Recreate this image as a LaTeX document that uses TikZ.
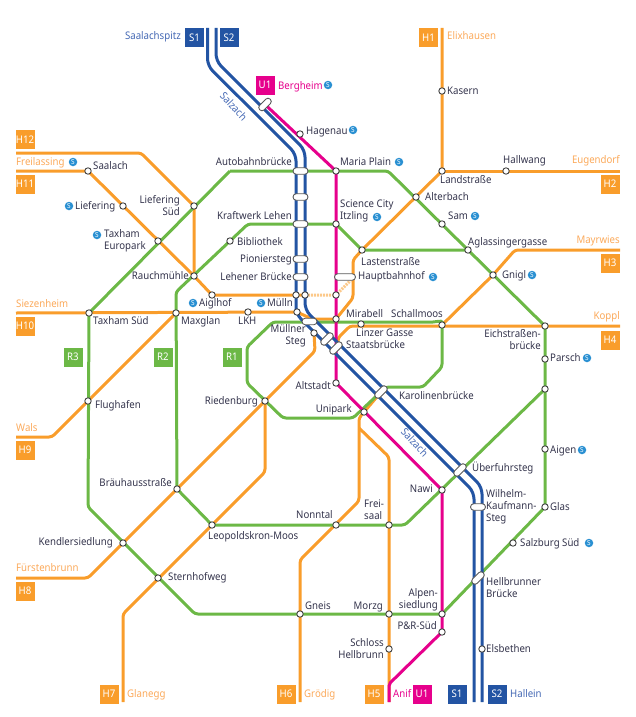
\documentclass[tikz,border=0pt]{standalone}
\usepackage{fontspec}
\setmainfont[FakeStretch=0.92]{Noto Sans}
\usetikzlibrary{backgrounds}
\definecolor{horange}{HTML}{F99D2B}
\definecolor{hlabel}{HTML}{FBA95A}
\definecolor{rgreen}{HTML}{6CB846}
\definecolor{sblue}{HTML}{2354A3}
\definecolor{slabel}{HTML}{4468B4}
\definecolor{upink}{HTML}{E6008C}
\definecolor{labeltext}{HTML}{34344C}
\definecolor{logoblue}{HTML}{2A90D2}
\tikzset{
    hline/.style={draw=horange,line width=3,rounded corners=3,line cap=butt},
    rline/.style={draw=rgreen,line width=3,rounded corners=3},
    sline/.style={draw=sblue,line width=3,rounded corners=7},
    uline/.style={draw=upink,line width=3,rounded corners=2},
    stn/.style={circle,draw=black!75,fill=white,line width=0.9,minimum size=6.4,inner sep=0},
    bridge/.style={rectangle,draw=black!65,fill=white,line width=0.9,minimum width=15,minimum height=6.5,inner sep=0,rounded corners=3.2},
    linebox/.style={minimum width=19,minimum height=19,inner sep=0,text=white,font=\fontsize{10.5}{12}\selectfont},
    lab/.style={inner sep=0,text=labeltext,font=\fontsize{10.5}{12}\selectfont,text height=8,text depth=2},
    two/.style={inner sep=0,text=labeltext,font=\fontsize{10.5}{12}\selectfont},
    logo/.style={circle,fill=logoblue,text=white,minimum size=8.5,inner sep=0,font=\fontsize{7}{7}\selectfont\bfseries},
}
\begin{document}
\begin{tikzpicture}[x=1pt,y=-1pt]
    \useasboundingbox (0,0) rectangle (636,717);

    % stations
    \node[stn] (kasern) at (442,91) {};
    \node[stn] (landstr) at (442,171) {};
    \node[stn] (hallwang) at (506,171) {};
    \node[stn] (alterbach) at (416,197) {};
    \node[stn] (sam) at (442,224) {};
    \node[stn] (hagenau) at (300,134) {};
    \node[stn] (mariaplain) at (336,171) {};
    \node[stn] (itzling) at (336,224) {};
    \node[stn] (lasten) at (362,250) {};
    \node[stn] (aglassing) at (468,250) {};
    \node[stn] (gnigl) at (493,275) {};
    \node[stn] (saalach) at (88,171) {};
    \node[stn] (liefering) at (123,206) {};
    \node[stn] (lieferingsued) at (194,206) {};
    \node[stn] (europark) at (158,241) {};
    \node[stn] (bibliothek) at (230,241) {};
    \node[stn] (rauchmuehle) at (194,276) {};
    \node[stn] (aiglhof) at (212,295) {};
    \node[stn] (tunnelS1) at (296,295) {};
    \node[stn] (tunnelS2) at (305,295) {};
    \node[stn] (tunnelU) at (336,295) {};
    \node[stn] (taxhamsued) at (89,313) {};
    \node[stn] (maxglan) at (176,313) {};
    \node[stn] (lkh) at (248,312) {};
    \node[stn] (muelln) at (297,312) {};
    \node[stn] (mirabell) at (336,319) {};
    \node[stn] (linzer) at (361,324) {};
    \node[stn] (schallmoos) at (442,325) {};
    \node[stn] (eichstr) at (545,326) {};
    \node[stn] (parsch) at (545,359) {};
    \node[stn] (ringost) at (545,389) {};
    \node[stn] (aigen) at (545,449) {};
    \node[stn] (glas) at (545,507) {};
    \node[stn] (muellnersteg) at (314,333) {};
    \node[stn] (altstadt) at (336,383) {};
    \node[stn] (riedenburg) at (265,401) {};
    \node[stn] (unipark) at (364,412) {};
    \node[stn] (flughafen) at (88,401) {};
    \node[stn] (braeuhaus) at (177,489) {};
    \node[stn] (nawi) at (442,490) {};
    \node[stn] (freisaal) at (389,525) {};
    \node[stn] (nonntal) at (336,525) {};
    \node[stn] (leopoldskron) at (212,525) {};
    \node[stn] (kendler) at (123,543) {};
    \node[stn] (salzburgsued) at (513,543) {};
    \node[stn] (sternhof) at (158,578) {};
    \node[stn] (gneis) at (300,614) {};
    \node[stn] (morzg) at (389,614) {};
    \node[stn] (alpen) at (442,614) {};
    \node[stn] (pundr) at (442,632) {};
    \node[stn] (schloss) at (389,649) {};
    \node[stn] (elsbethen) at (482,649) {};

    % bridges
    \node[bridge,rotate=45] (bergheim) at (265,104.5) {};
    \node[bridge] (autobahn) at (300.5,171) {};
    \node[bridge] (brb) at (300.5,197) {};
    \node[bridge] (kraftwerk) at (300.5,224) {};
    \node[bridge] (pionier) at (300.5,259) {};
    \node[bridge] (lehener) at (300.5,277) {};
    \node[bridge,minimum width=21] (hbf) at (345,277) {};
    \node[bridge] (muellnerbr) at (309.5,321.5) {};
    \node[bridge,rotate=45] (brc) at (327,339) {};
    \node[bridge,rotate=45] (staats) at (336,348) {};
    \node[bridge,rotate=45] (karolinen) at (381,392) {};
    \node[bridge,rotate=45] (ueberfuhr) at (460,470) {};
    \node[bridge] (wilhelm) at (478,507) {};
    \node[bridge,rotate=45] (hellbrunner) at (478,578) {};

    % free ends
    \coordinate (h1end) at (442,28);
    \coordinate (h2end) at (620,171);
    \coordinate (h3end) at (620,250);
    \coordinate (h4end) at (620,326);
    \coordinate (h5end) at (389,702);
    \coordinate (h6end) at (300,702);
    \coordinate (h7end) at (123,702);
    \coordinate (h8end) at (16,578);
    \coordinate (h9end) at (16,437);
    \coordinate (h10end) at (16,313);
    \coordinate (h11end) at (16,171);
    \coordinate (h12end) at (16,153);
    \coordinate (s1top) at (207.5,28);
    \coordinate (s2top) at (216,28);
    \coordinate (s1bot) at (474,702);
    \coordinate (s2bot) at (482,702);
    \coordinate (u1end) at (389,702);

    \begin{scope}[on background layer]
        % H lines
        \draw[hline] (h1end) -- (kasern.center) -- (landstr.center) -- (lasten.center) -- (353,260) -- (353,298) -- (mirabell.center);
        \draw[hline] (landstr.center) -- (h2end);
        \draw[hline] (h3end) -- (515,250) -- (gnigl.center) -- (schallmoos.center);
        \draw[hline] (h4end) -- (350,326) -- (338,338) -- (338,350);
        \draw[hline] (h5end) -- (schloss.center) -- (389,457) -- (359,428);
        \draw[hline] (h6end) -- (300,560) -- (359,501) -- (359,418) -- (karolinen.center);
        \draw[hline] (h7end) -- (123,614) -- (265,472) -- (riedenburg.center);
        \draw[hline] (h8end) -- (88,578) -- (315,351) -- (muellnersteg.center);
        \draw[hline] (h9end) -- (52,437) -- (maxglan.center);
        \draw[hline] (h10end) -- (muelln.center) -- (312,319) -- (mirabell.center);
        \draw[hline] (h11end) -- (saalach.center) -- (rauchmuehle.center) -- (aiglhof.center) -- (tunnelS2.center);
        \draw[hline] (h12end) -- (141,153) -- (lieferingsued.center) -- (rauchmuehle.center);
        \draw[draw=horange!55,line width=3,dash pattern=on 2pt off 1pt] (tunnelS2.center) -- (tunnelU.center) -- (353,278);

        % R lines
        \draw[rline] (230,171) -- (388,171) -- (eichstr.center) -- (glas.center) -- (alpen.center) -- (195,614) -- (88,507) -- (taxhamsued.center) -- (230,171);
        \draw[rline] (braeuhaus.center) -- (176,292) -- (248,224) -- (itzling.center) -- (lasten.center) -- (aglassing.center);
        \draw[rline] (ringost.center) -- (405,525) -- (leopoldskron.center) -- (braeuhaus.center);
        \draw[rline] (273,322) -- (430,322) to[out=0,in=90] (schallmoos.center) -- (442,367) -- (423,387) -- (386,387) -- (353,418) -- (283,418) -- (247,383) -- (247,347) -- cycle;

        % U line
        \draw[uline] (bergheim.center) -- (mariaplain.center) -- (altstadt.center) -- (nawi.center) -- (pundr.center) -- (389,684) -- (u1end);

        % S lines
        \draw[sline] (s1top) -- (207.5,65.7) -- (296,154) -- (296,314) -- (474,492) -- (s1bot);
        \draw[sline] (s2top) -- (216,61) -- (305,150) -- (305,310) -- (482,487) -- (s2bot);
    \end{scope}

    % line boxes
    \node[linebox,fill=sblue] (boxS1a) at (194.5,37.5) {S1};
    \node[linebox,fill=sblue] (boxS2a) at (229,37.5) {S2};
    \node[linebox,fill=upink] (boxU1a) at (265,85) {U1};
    \node[linebox,fill=horange] (boxH12) at (25,139.5) {H12};
    \node[linebox,fill=horange] (boxH11) at (25,184) {H11};
    \node[linebox,fill=horange] (boxH1) at (428.5,37.5) {H1};
    \node[linebox,fill=horange] (boxH2) at (610,184) {H2};
    \node[linebox,fill=horange] (boxH3) at (610,263) {H3};
    \node[linebox,fill=horange] (boxH4) at (610,340) {H4};
    \node[linebox,fill=horange] (boxH10) at (25,326) {H10};
    \node[linebox,fill=horange] (boxH9) at (25,450) {H9};
    \node[linebox,fill=horange] (boxH8) at (25,591) {H8};
    \node[linebox,fill=horange] (boxH7) at (109,694) {H7};
    \node[linebox,fill=horange] (boxH6) at (286,694) {H6};
    \node[linebox,fill=horange] (boxH5) at (374,694) {H5};
    \node[linebox,fill=upink] (boxU1b) at (422,694) {U1};
    \node[linebox,fill=sblue] (boxS1b) at (457,694) {S1};
    \node[linebox,fill=sblue] (boxS2b) at (497,694) {S2};
    \node[linebox,fill=rgreen] (boxR3) at (73,357) {R3};
    \node[linebox,fill=rgreen] (boxR2) at (163,357) {R2};
    \node[linebox,fill=rgreen] (boxR1) at (232,357) {R1};

    % S-Bahn logos
    \foreach \name/\x/\y in {bergheimS/328/85,hagenauS/353/130,mariaS/399/162,itzlingS/377/217,samS/475/216,gniglS/532/275,freilassingS/73/162,lieferingS/69/206,europarkS/97/235,aiglhofS/193/303,muellnS/261/303,hbfS/433/277,parschS/587/358,aigenS/582/450,suedS/589/543}
        \node[logo] (\name) at (\x,\y) {S};

    % labels
    \node[lab,anchor=east,text=slabel] (tSaalachspitz) at (181,37) {Saalachspitz};
    \node[lab,anchor=west,text=upink] (tBergheim) at (278,86) {Bergheim};
    \node[lab,text=slabel,rotate=-47] (tSalzachA) at (233,107) {Salzach};
    \node[lab,text=slabel,rotate=-47] (tSalzachB) at (414,443) {Salzach};
    \node[lab,anchor=west] (tHagenau) at (306,131) {Hagenau};
    \node[lab,anchor=west,text=hlabel] (tElixhausen) at (447,37) {Elixhausen};
    \node[lab,anchor=west] (tKasern) at (447,91) {Kasern};
    \node[lab,anchor=east] (tAutobahn) at (292,162) {Autobahnbrücke};
    \node[lab,anchor=west] (tMaria) at (340,162) {Maria Plain};
    \node[lab,anchor=west] (tLandstr) at (440,180) {Landstraße};
    \node[lab,anchor=west] (tHallwang) at (503,160) {Hallwang};
    \node[lab,anchor=east,text=hlabel] (tEugendorf) at (620,160) {Eugendorf};
    \node[lab,anchor=west,text=hlabel] (tFreilassing) at (16,162) {Freilassing};
    \node[lab,anchor=west] (tSaalach) at (93,166) {Saalach};
    \node[lab,anchor=west] (tLiefering) at (75,206) {Liefering};
    \node[two,anchor=east,align=right] (tLieferingS) at (180,206) {Liefering\\Süd};
    \node[two,anchor=west,align=left] (tEuropark) at (104,241) {Taxham\\Europark};
    \node[lab,anchor=east] (tKraftwerk) at (292,216) {Kraftwerk Lehen};
    \node[two,anchor=west,align=left] (tItzling) at (340,211) {Science City\\Itzling};
    \node[lab,anchor=west] (tAlterbach) at (425,197) {Alterbach};
    \node[lab,anchor=west] (tSam) at (448,216) {Sam};
    \node[lab,anchor=west] (tAglassing) at (468,242) {Aglassingergasse};
    \node[lab,anchor=east,text=hlabel] (tMayrwies) at (620,240) {Mayrwies};
    \node[lab,anchor=west] (tGnigl) at (502,275) {Gnigl};
    \node[lab,anchor=west] (tBibliothek) at (237,242) {Bibliothek};
    \node[lab,anchor=east] (tPionier) at (292,259) {Pioniersteg};
    \node[lab,anchor=west] (tLasten) at (361,262) {Lastenstraße};
    \node[lab,anchor=west] (tHbf) at (358,276) {Hauptbahnhof};
    \node[lab,anchor=east] (tRauch) at (189,276) {Rauchmühle};
    \node[lab,anchor=east] (tLehener) at (292,277) {Lehener Brücke};
    \node[lab,anchor=west] (tAiglhof) at (199,303) {Aiglhof};
    \node[lab,anchor=west] (tMuelln) at (267,303) {Mülln};
    \node[lab,anchor=west,text=hlabel] (tSiezenheim) at (16,304) {Siezenheim};
    \node[lab,anchor=west] (tTaxhamS) at (93,321) {Taxham Süd};
    \node[lab,anchor=west] (tMaxglan) at (181,321) {Maxglan};
    \node[lab,anchor=west] (tLKH) at (238,321) {LKH};
    \node[lab,anchor=west] (tMirabell) at (346,314) {Mirabell};
    \node[lab,anchor=west] (tSchallmoos) at (391,314) {Schallmoos};
    \node[lab,anchor=east,text=hlabel] (tKoppl) at (620,316) {Koppl};
    \node[lab,anchor=west] (tLinzer) at (356,333) {Linzer Gasse};
    \node[two,anchor=east,align=right] (tMuellner) at (306,336) {Müllner\\Steg};
    \node[lab,anchor=west] (tStaats) at (346,345) {Staatsbrücke};
    \node[two,anchor=east,align=right] (tEichstr) at (541,340) {Eichstraßen-\\brücke};
    \node[lab,anchor=west] (tParsch) at (550,358) {Parsch};
    \node[lab,anchor=east] (tAltstadt) at (331,386) {Altstadt};
    \node[lab,anchor=east] (tRiedenburg) at (258,401) {Riedenburg};
    \node[lab,anchor=west] (tKarolinen) at (399,396) {Karolinenbrücke};
    \node[lab,anchor=east] (tUnipark) at (352,409) {Unipark};
    \node[lab,anchor=west] (tFlughafen) at (95,405) {Flughafen};
    \node[lab,anchor=west] (tAigen) at (550,450) {Aigen};
    \node[lab,anchor=west,text=hlabel] (tWals) at (16,428) {Wals};
    \node[lab,anchor=west] (tUeberfuhr) at (472,468) {Überfuhrsteg};
    \node[lab,anchor=east] (tNawi) at (433,489) {Nawi};
    \node[lab,anchor=east] (tBraeuhaus) at (172,483) {Bräuhausstraße};
    \node[two,anchor=west,align=left] (tWilhelm) at (486,507) {Wilhelm-\\Kaufmann-\\Steg};
    \node[lab,anchor=west] (tGlas) at (550,507) {Glas};
    \node[two,anchor=west,align=left] (tFreisaal) at (364,510) {Frei-\\saal};
    \node[lab,anchor=west] (tNonntal) at (296,515) {Nonntal};
    \node[lab,anchor=west] (tLeopold) at (208,536) {Leopoldskron-Moos};
    \node[lab,anchor=east] (tKendler) at (113,542) {Kendlersiedlung};
    \node[lab,anchor=west] (tSuedbf) at (520,543) {Salzburg Süd};
    \node[lab,anchor=west] (tSternhof) at (168,577) {Sternhofweg};
    \node[two,anchor=west,align=left] (tHellbrunner) at (486,588) {Hellbrunner\\Brücke};
    \node[lab,anchor=west,text=hlabel] (tFuerstenbrunn) at (16,568) {Fürstenbrunn};
    \node[two,anchor=east,align=right] (tAlpen) at (438,600) {Alpen-\\siedlung};
    \node[lab,anchor=west] (tGneis) at (305,606) {Gneis};
    \node[lab,anchor=east] (tMorzg) at (383,606) {Morzg};
    \node[lab,anchor=east] (tPundR) at (437,626) {P\&R-Süd};
    \node[two,anchor=east,align=right] (tSchloss) at (384,649) {Schloss\\Hellbrunn};
    \node[lab,anchor=west] (tElsbethen) at (486,649) {Elsbethen};
    \node[lab,anchor=west,text=hlabel] (tGlanegg) at (127,694) {Glanegg};
    \node[lab,anchor=west,text=hlabel] (tGroedig) at (304,694) {Grödig};
    \node[lab,anchor=west,text=upink] (tAnif) at (393,694) {Anif};
    \node[lab,anchor=west,text=slabel] (tHallein) at (510,694) {Hallein};
\end{tikzpicture}
\end{document}
